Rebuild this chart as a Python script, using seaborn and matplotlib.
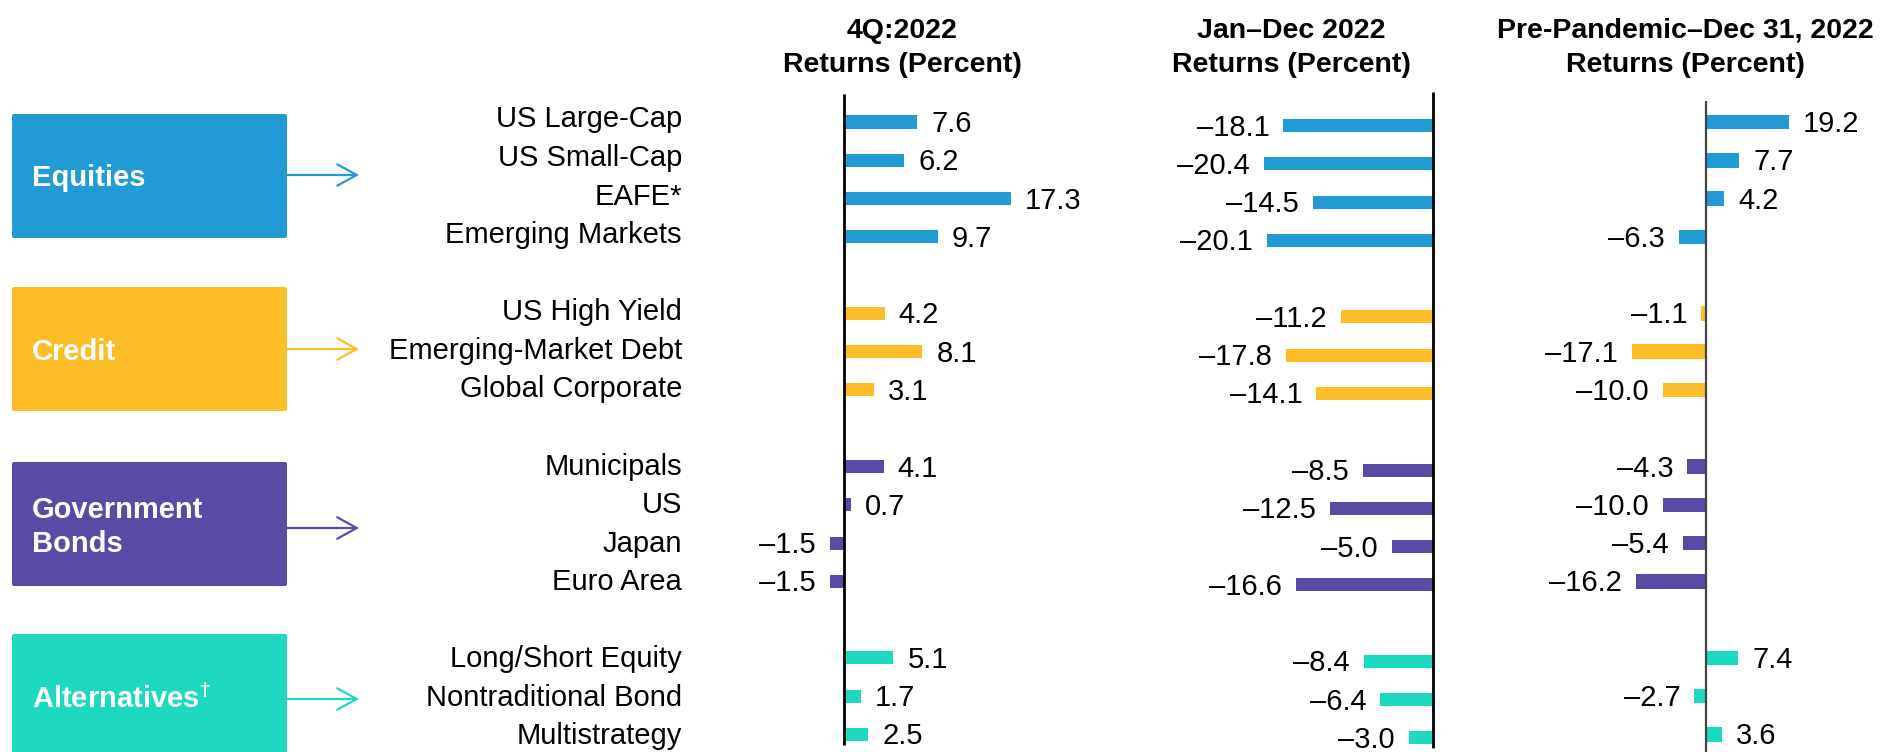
import numpy as np
import pandas as pd
import matplotlib
matplotlib.use("Agg")
import matplotlib.pyplot as plt
import seaborn as sns
from matplotlib.patches import FancyBboxPatch

# ---------------- data ----------------
categories = ["US Large-Cap", "US Small-Cap", "EAFE*", "Emerging Markets",
              "US High Yield", "Emerging-Market Debt", "Global Corporate",
              "Municipals", "US", "Japan", "Euro Area",
              "Long/Short Equity", "Nontraditional Bond", "Multistrategy"]
groups = (["Equities"] * 4 + ["Credit"] * 3 +
          ["Government Bonds"] * 4 + ["Alternatives"] * 3)
group_names = ["Equities", "Credit", "Government Bonds", "Alternatives"]
group_labels = ["Equities", "Credit", "Government\nBonds", r"Alternatives$^{\dagger}$"]
q4_2022 = [7.6, 6.2, 17.3, 9.7, 4.2, 8.1, 3.1, 4.1, 0.7, -1.5, -1.5, 5.1, 1.7, 2.5]
jan_dec_2022 = [-18.1, -20.4, -14.5, -20.1, -11.2, -17.8, -14.1,
                -8.5, -12.5, -5.0, -16.6, -8.4, -6.4, -3.0]
pre_pandemic = [19.2, 7.7, 4.2, -6.3, -1.1, -17.1, -10.0,
                -4.3, -10.0, -5.4, -16.2, 7.4, -2.7, 3.6]
panel_titles = ["4Q:2022\nReturns (Percent)",
                "Jan\u2013Dec 2022\nReturns (Percent)",
                "Pre-Pandemic\u2013Dec 31, 2022\nReturns (Percent)"]

colors = {"Equities": "#219ad6", "Credit": "#fdbd28",
          "Government Bonds": "#584ba5", "Alternatives": "#1fd8c0"}

# ---------------- layout helpers ----------------
# row positions: one empty row between groups
rows = []
r = 0
prev = groups[0]
for g in groups:
    if g != prev:
        r += 1
        prev = g
    rows.append(r)
    r += 1

df = pd.DataFrame({"cat": categories, "group": groups, "row": rows,
                   "q4": q4_2022, "ytd": jan_dec_2022, "pre": pre_pandemic})

W, H = 1883, 752
sns.set_theme(style="white")
plt.rcParams["font.family"] = ["Liberation Sans", "DejaVu Sans"]
plt.rcParams["mathtext.fontset"] = "dejavusans"

fig = plt.figure(figsize=(W / 100, H / 100), dpi=100)
fig.patch.set_facecolor("white")

# background overlay axes in pixel coordinates
axbg = fig.add_axes([0, 0, 1, 1], zorder=0)
axbg.set_xlim(0, W)
axbg.set_ylim(H, 0)
axbg.axis("off")

ROW0 = 122.0
PITCH = 38.28
TOP_PX = 80.0


def add_panel(left_px, right_px, zero_px, scale):
    ax = fig.add_axes([left_px / W, 0, (right_px - left_px) / W, (H - TOP_PX) / H], zorder=2)
    ax.set_facecolor("none")
    ax.set_xlim((left_px - zero_px) / scale, (right_px - zero_px) / scale)
    return ax


panels = [
    dict(col="q4", left=700, right=1100, zero=844.5, scale=9.6, shift=0.0,
         ltop=94, lbot=745, lw=2.0, lc="black", bh=0.34),
    dict(col="ytd", left=1150, right=1450, zero=1433.5, scale=8.3, shift=3.5,
         ltop=92, lbot=748, lw=2.0, lc="black", bh=0.34),
    dict(col="pre", left=1550, right=1883, zero=1706.0, scale=4.33, shift=0.0,
         ltop=101, lbot=752, lw=1.6, lc="#444444", bh=0.38),
]

axes = []
for p in panels:
    ax = add_panel(p["left"], p["right"], p["zero"], p["scale"])
    shift = p["shift"]
    sns.barplot(data=df, x=p["col"], y="row", hue="group", palette=colors,
                orient="h", native_scale=True, dodge=False, width=p["bh"],
                errorbar=None, legend=False, ax=ax, saturation=1, linewidth=0)
    ytop = (TOP_PX - (ROW0 + shift)) / PITCH
    ybot = (H - (ROW0 + shift)) / PITCH
    ax.set_ylim(ybot, ytop)
    ax.axis("off")
    ax.vlines(0, (p["ltop"] - ROW0 - shift) / PITCH, (p["lbot"] - ROW0 - shift) / PITCH,
              color=p["lc"], lw=p["lw"], zorder=5)
    gap = 14
    for v, rr in zip(df[p["col"]], df["row"]):
        txt = f"{v:.1f}".replace("-", "\u2013")
        if v >= 0:
            ax.annotate(txt, xy=(v, rr), xytext=(gap, -10), textcoords="offset pixels",
                        ha="left", va="baseline", fontsize=21, color="black")
        else:
            ax.annotate(txt, xy=(v, rr), xytext=(-gap, -10), textcoords="offset pixels",
                        ha="right", va="baseline", fontsize=21, color="black")
    axes.append(ax)

# category labels right-aligned left of panel 1
ax1 = axes[0]
for cat, rr in zip(df["cat"], df["row"]):
    off = 5.5 + 4.5 * rr / 16.0
    ax1.annotate(cat, xy=(0, rr), xycoords=("axes fraction", "data"),
                 xytext=(682 - 700, -off), textcoords="offset pixels",
                 ha="right", va="baseline", fontsize=21, color="black")

# panel headers
header_x = [902, 1291, 1685]
for hx, title in zip(header_x, panel_titles):
    l1, l2 = title.split("\n")
    axbg.text(hx, 38, l1, ha="center", va="baseline", fontsize=20.5,
              fontweight="bold", color="black")
    axbg.text(hx, 72, l2, ha="center", va="baseline", fontsize=20.5,
              fontweight="bold", color="black")

# group boxes with arrows
box_tops = [114, 287, 462, 634]
arrow_y = [175, 349, 528, 699]
text_y = [[186.5], [359.5], [517.5, 552.5], [707.5]]
for g, lab, bt, ay, ty in zip(group_names, group_labels, box_tops, arrow_y, text_y):
    c = colors[g]
    axbg.add_patch(FancyBboxPatch((12, bt), 275, 124,
                                  boxstyle="round,pad=0,rounding_size=2",
                                  facecolor=c, edgecolor="none"))
    lines = lab.split("\n")
    for ln, yy in zip(lines, ty):
        axbg.text(32, yy, ln, color="white", fontsize=21, fontweight="bold",
                  ha="left", va="baseline")
    axbg.annotate("", xy=(359, ay), xytext=(287, ay),
                  arrowprops=dict(arrowstyle="->,head_length=0.4,head_width=0.22",
                                  color=c, lw=1.6, mutation_scale=35,
                                  shrinkA=0, shrinkB=0))

fig.savefig("out.png", dpi=100, facecolor="white")
